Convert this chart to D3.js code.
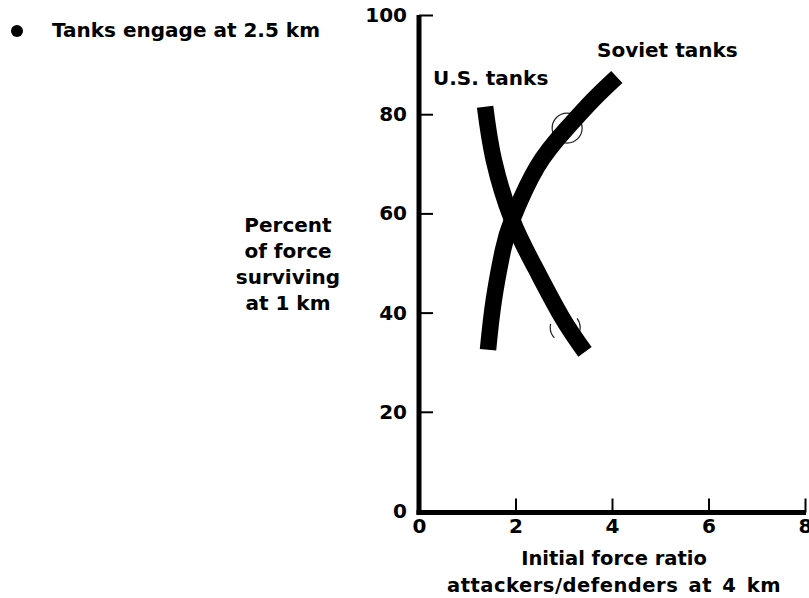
<!DOCTYPE html>
<html>
<head>
<meta charset="utf-8">
<script src="https://cdn.jsdelivr.net/npm/d3@7"></script>
<style>
  body { margin: 0; background: #fff; }
  text { font-family: "DejaVu Sans", sans-serif; font-weight: bold; fill: #000; }
</style>
</head>
<body>
<script>
// data
let xTicks = [0, 2, 4, 6, 8];
let yTicks = [0, 20, 40, 60, 80, 100];

let usX = [1.37, 1.55, 1.93, 2.40, 2.96, 3.44];
let usY = [81.5, 70.8, 58.7, 49.2, 39.1, 32.1];

let sovX = [1.43, 1.55, 1.74, 1.93, 2.45, 3.07, 3.61, 4.10];
let sovY = [32.5, 42.5, 52.6, 58.7, 69.4, 77.2, 82.9, 87.5];

// open circles on the curves
let ringX = [3.07, 3.03];
let ringY = [77.2, 37.0];

let width = 809,
    height = 598;

let svg = d3.select('body')
            .append('svg')
            .attr('width', width)
            .attr('height', height);

let xscale = d3.scaleLinear()
              .domain([0, 8])
              .range([419, 805]);

let yscale = d3.scaleLinear()
              .domain([0, 100])
              .range([511, 15]);

// axes, ticks point inward
let yaxis = svg.append('g')
              .attr('transform', `translate(${xscale(0)},0)`)
              .call(d3.axisLeft(yscale).tickValues(yTicks).tickSizeInner(-14).tickSizeOuter(0).tickPadding(12));

let xaxis = svg.append('g')
              .attr('transform', `translate(0,${yscale(0) + 1.5})`)
              .call(d3.axisBottom(xscale).tickValues(xTicks).tickSizeInner(-14).tickSizeOuter(0).tickPadding(6));

svg.selectAll('.domain').attr('stroke', '#000').attr('stroke-width', 5);
svg.selectAll('.tick line').attr('stroke', '#000').attr('stroke-width', 2);
svg.selectAll('.tick text').style('font-size', '20px').style('font-family', '"DejaVu Sans", sans-serif').style('font-weight', 'bold');
yaxis.select('.domain').attr('d', `M0,${yscale(100)}V${yscale(0) + 4}`);
xaxis.select('.domain').attr('d', `M${xscale(0) - 2.5},0H${xscale(8) + 1}`);

// curves
let line = d3.line()
            .x(d => xscale(d[0]))
            .y(d => yscale(d[1]))
            .curve(d3.curveNatural);

let rings = svg.append('g').selectAll('circle')
  .data(d3.zip(ringX, ringY))
  .join('circle')
  .attr('cx', d => xscale(d[0]))
  .attr('cy', d => yscale(d[1]))
  .attr('r', 15)
  .attr('fill', 'none')
  .attr('stroke', '#222')
  .attr('stroke-width', 1.2);

// the lower ring only shows as two short arcs
rings.filter((d, i) => i === 1).attr('stroke-dasharray', '5 30.4 15.2 33.2 10.5 0');

svg.append('path')
  .datum(d3.zip(usX, usY))
  .attr('d', line)
  .attr('fill', 'none')
  .attr('stroke', '#000')
  .attr('stroke-width', 16.5);

svg.append('path')
  .datum(d3.zip(sovX, sovY))
  .attr('d', line)
  .attr('fill', 'none')
  .attr('stroke', '#000')
  .attr('stroke-width', 16.5);

// curve labels
svg.append('text').text('U.S. tanks').attr('x', 433).attr('y', 85).style('font-size', '20px');
svg.append('text').text('Soviet tanks').attr('x', 597).attr('y', 57).style('font-size', '20px');

// legend
svg.append('circle').attr('cx', 17).attr('cy', 31).attr('r', 6).attr('fill', '#000');
svg.append('text').text('Tanks engage at 2.5 km').attr('x', 52).attr('y', 37).style('font-size', '20px');

// y label
let ylab = ['Percent', 'of force', 'surviving', 'at 1 km'];
svg.append('g').selectAll('text')
  .data(ylab)
  .join('text')
  .text(d => d)
  .attr('x', 288)
  .attr('y', (d, i) => 232 + i * 26)
  .attr('text-anchor', 'middle')
  .style('font-size', '20px');

// x label
let xlab = ['Initial force ratio', 'attackers/defenders at 4 km'];
svg.append('g').selectAll('text')
  .data(xlab)
  .join('text')
  .text(d => d)
  .attr('x', 614)
  .attr('y', (d, i) => 565 + i * 27)
  .attr('text-anchor', 'middle')
  .style('font-size', '19.5px')
  .style('word-spacing', (d, i) => i === 1 ? '3px' : null)
  .style('letter-spacing', (d, i) => i === 1 ? '0.5px' : null);
</script>
</body>
</html>
